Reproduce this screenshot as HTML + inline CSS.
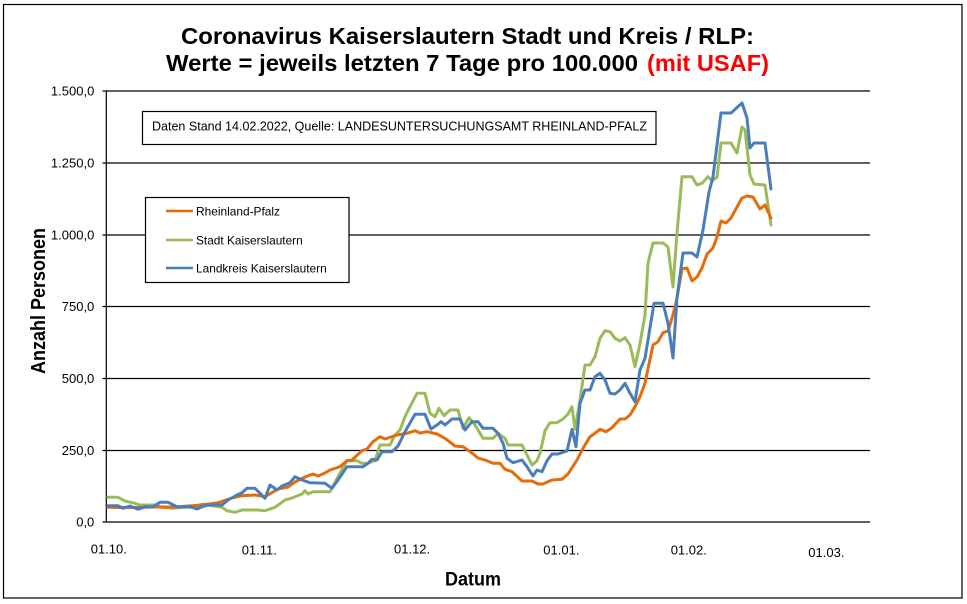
<!DOCTYPE html>
<html>
<head>
<meta charset="utf-8">
<style>
html,body{margin:0;padding:0;background:#fff;}
svg{display:block;}
text{font-family:"Liberation Sans",Arial,sans-serif;}
</style>
</head>
<body>
<svg width="967" height="604" viewBox="0 0 967 604" xmlns="http://www.w3.org/2000/svg">
<rect x="0" y="0" width="967" height="604" fill="#fff"/>
<rect x="3.5" y="4.5" width="958.5" height="593.5" fill="none" stroke="#000" stroke-width="1.2"/>

<!-- Title -->
<text x="181" y="44" font-size="23" font-weight="bold" textLength="573" lengthAdjust="spacingAndGlyphs">Coronavirus Kaiserslautern Stadt und Kreis / RLP:</text>
<text x="166" y="71" font-size="23" font-weight="bold" textLength="472" lengthAdjust="spacingAndGlyphs">Werte = jeweils letzten 7 Tage pro 100.000</text>
<text x="647" y="71" font-size="23" font-weight="bold" fill="#ff0000" textLength="122" lengthAdjust="spacingAndGlyphs">(mit USAF)</text>

<!-- Gridlines -->
<g stroke="#000" stroke-width="1.2">
<line x1="102.5" y1="91" x2="870" y2="91"/>
<line x1="102.5" y1="163" x2="870" y2="163"/>
<line x1="102.5" y1="235" x2="870" y2="235"/>
<line x1="102.5" y1="306.5" x2="870" y2="306.5"/>
<line x1="102.5" y1="378.5" x2="870" y2="378.5"/>
<line x1="102.5" y1="450.5" x2="870" y2="450.5"/>
<line x1="102.5" y1="522" x2="870" y2="522"/>
<line x1="106.3" y1="91" x2="106.3" y2="522"/>
</g>

<!-- Y labels -->
<g font-size="13" text-anchor="end" fill="#000">
<text x="94.3" y="95.6">1.500,0</text>
<text x="94.3" y="167.6">1.250,0</text>
<text x="94.3" y="239.6">1.000,0</text>
<text x="94.3" y="311.1">750,0</text>
<text x="94.3" y="383.1">500,0</text>
<text x="94.3" y="455.1">250,0</text>
<text x="94.3" y="526.6">0,0</text>
</g>

<!-- X labels -->
<g font-size="13" fill="#000">
<text x="90.7" y="553.5">01.10.</text>
<text x="241.7" y="554.5">01.11.</text>
<text x="394" y="553.5">01.12.</text>
<text x="543.3" y="554.5">01.01.</text>
<text x="670.7" y="554.7">01.02.</text>
<text x="808.3" y="556.8">01.03.</text>
</g>

<!-- Axis titles -->
<text x="445" y="585.5" font-size="19" font-weight="bold" textLength="56" lengthAdjust="spacingAndGlyphs">Datum</text>
<text transform="translate(45,301) rotate(-90)" x="0" y="0" text-anchor="middle" font-size="20" font-weight="bold" textLength="146" lengthAdjust="spacingAndGlyphs">Anzahl Personen</text>

<!-- Source box -->
<rect x="142.5" y="111.5" width="513.5" height="33" fill="#fff" stroke="#000" stroke-width="1.2"/>
<text x="152" y="130.5" font-size="13" textLength="495" lengthAdjust="spacingAndGlyphs">Daten Stand 14.02.2022, Quelle: LANDESUNTERSUCHUNGSAMT RHEINLAND-PFALZ</text>

<!-- Series -->
<g fill="none" stroke-width="3" stroke-linejoin="round" stroke-linecap="round">
<polyline stroke="#9BBB59" points="108,497.3 118,497.3 125,501 135,503.3 140,505 155,505 162,507.3 172,508.3 185,507.3 192,507.3 202,504.3 222,507.3 227,510.7 235,512.3 242,510 258,510 265,510.7 275,507.3 285,500 292,498 302,494 305,490.7 308,494 313,491.7 325,491.7 330,491.7 338,476.7 347,460.7 357,460.7 362,463.3 367,463.3 375,460.7 380,445 390,445 395,435 400,430 405,416.7 410,406.7 417,393.3 425,393.3 430,413.3 435,416.7 439,408.3 444,415.7 450,410 458,410 463,428.3 469,417.7 475,425 483,438.3 493,438.3 498,433.3 505,438.3 508,445 522,445 532,465 537,460.7 540,453.3 545,430.7 550,422.7 557,422.7 563,419 568,414 572,406.7 575,429.3 580,400 585,365 590,365 595,356.7 600,338.3 605,330.7 610,331.7 615,338.3 620,341 625,337.7 630,345 635,366.7 640,343.3 645,315 648,263 653,243 663,243 668,247 673,287 677,233 682,176.7 692,176.7 697,185 702,183.3 708,176.7 712,180.7 717,177.3 721,143 731,143 737,153 742,127 745,130 750,175 754,184 765,185 771,225"/>
<polyline stroke="#E46C0A" points="108,507.3 118,507.5 135,507.5 155,507 175,507 202,505 218,502.7 232,498 242,495.7 255,495 265,496.7 278,489 288,487 295,482 305,477 313,474 318,476 325,473 330,470 340,466.7 347,460.7 352,460 362,450.7 367,449 373,441.7 380,436.7 385,439 392,436.7 397,435 407,433.3 415,430.7 420,433 427,431.7 437,434 445,438.3 455,446 463,446.7 472,453 478,458 487,460.7 493,463.3 500,463.3 505,469.3 512,471.7 522,481 532,481 538,484 543,484 552,480 562,479.3 568,474 577,460 583,448.3 590,436.7 595,433.3 600,429.3 606,431.7 612,427.7 620,419 625,419 630,415 635,406.7 640,396.7 645,383.3 653,345 658,341.7 663,332.7 668,331 673,315 677,298 682,269 687,268 692,281 697,277 702,268 707,254 713,248 717,237 721,221 726,223 731,218 737,207 742,198 747,196 753,197 760,209 765,205 771,218"/>
<polyline stroke="#4A7EBB" points="108,505.7 118,505.7 123,508.3 130,506 138,509.3 145,506.7 153,506.7 160,502.3 168,502.3 177,506.7 190,506.7 197,509 202,506.7 208,505 222,505 228,500 237,495 242,492.7 247,488.3 255,488.3 265,498.3 270,485 277,490 282,486 290,482.7 295,476.7 302,480 310,482.7 325,483.3 332,488.3 338,480 347,466.7 363,466.7 368,463.3 372,459.3 377,460 382,451.7 392,451.7 398,446 405,431.7 415,414.3 425,414.3 431,429 437,425 441,421.7 445,425 452,419 460,419 465,430 472,421.7 478,421.7 483,428.3 493,428.3 498,433.3 503,443.3 507,458.3 513,462.7 522,460 527,466.7 533,476 537,470 542,471.7 547,460.7 552,454 558,454 567,451 572,429.3 576,446.7 580,403.3 585,390 590,390 595,376.7 600,373.3 605,380 610,393.3 615,394 620,390 625,383.3 630,393.3 635,401.7 640,370 645,358.3 648,340 654,303.3 663,303.3 668,323.3 673,358 677,298 683,253 692,253 697,257 703,230 709,192 713,177 721,113 731,113 742,103 747,118 750,148 754,143 765,143 771,189"/>
</g>

<!-- Legend -->
<rect x="145.5" y="197.5" width="203.5" height="85" fill="#fff" stroke="#000" stroke-width="1.2"/>
<g stroke-width="2.6">
<line x1="166" y1="211" x2="193" y2="211" stroke="#E46C0A"/>
<line x1="166" y1="240" x2="193" y2="240" stroke="#9BBB59"/>
<line x1="166" y1="268" x2="193" y2="268" stroke="#4A7EBB"/>
</g>
<g font-size="12" fill="#000">
<text x="196" y="215.3" textLength="84" lengthAdjust="spacingAndGlyphs">Rheinland-Pfalz</text>
<text x="196" y="244.3" textLength="106.7" lengthAdjust="spacingAndGlyphs">Stadt Kaiserslautern</text>
<text x="196" y="272.3" textLength="130.7" lengthAdjust="spacingAndGlyphs">Landkreis Kaiserslautern</text>
</g>
</svg>
</body>
</html>
